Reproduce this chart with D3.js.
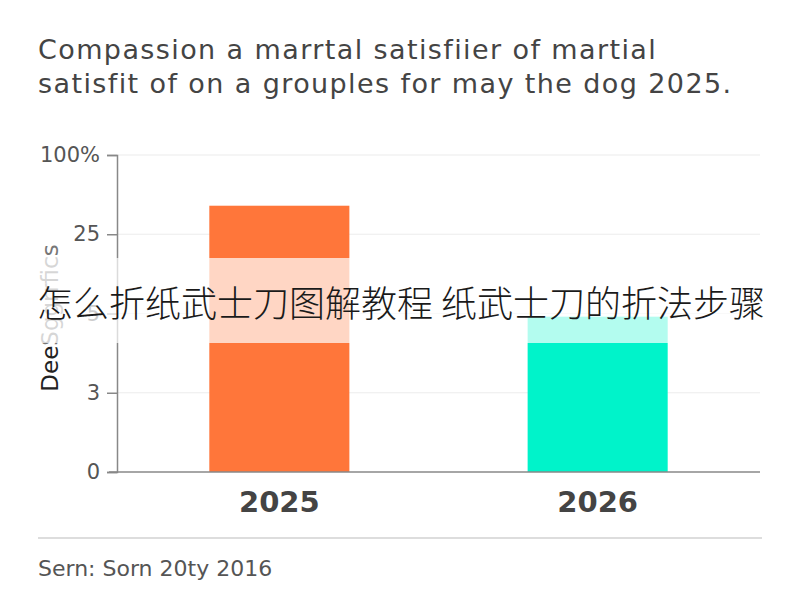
<!DOCTYPE html>
<html>
<head>
<meta charset="utf-8">
<script src="https://cdn.jsdelivr.net/npm/d3@7"></script>
<style>
  body { margin: 0; background: #fff; }
  svg { display: block; }
</style>
</head>
<body>
<div id="chart"></div>
<script>
// chart data
const years = ["2025", "2026"];
const values = [84, 49];
const barColors = ["#ff763a", "#00f3ca"];
const tickValues = [0, 25, 50, 75, 100];
const tickLabels = ["0", "3", "5", "25", "100%"];
const titleLines = [
    "Compassion a marrtal satisfiier of martial",
    "satisfit of on a grouples for may the dog 2025."
];
const yLabelDark = "Dee";
const yLabelLight = "Sggrrfics";
const sourceText = "Sern: Sorn 20ty 2016";
const bannerText = "怎么折纸武士刀图解教程 纸武士刀的折法步骤";

const width = 800;
const height = 600;
const plotLeft = 117, plotRight = 760, plotTop = 155, plotBottom = 472;

const svg = d3.select("#chart").append("svg")
    .attr("width", width)
    .attr("height", height);

// title
svg.append("g").selectAll("text")
    .data(titleLines)
    .enter().append("text")
    .attr("x", 38)
    .attr("y", (d, i) => 59 + i * 34)
    .style("font-family", "'DejaVu Sans', sans-serif")
    .style("font-size", "27px")
    .style("letter-spacing", "1.4px")
    .style("fill", "#444")
    .text(d => d);

const x = d3.scaleBand().domain(years).range([plotLeft, plotRight])
    .paddingInner(0.56).paddingOuter(0.29);
const y = d3.scaleLinear().domain([0, 100]).range([plotBottom, plotTop]);

// grid lines
svg.append("g").selectAll("line")
    .data(tickValues.slice(1))
    .enter().append("line")
    .attr("x1", plotLeft).attr("x2", plotRight)
    .attr("y1", d => y(d)).attr("y2", d => y(d))
    .style("stroke", "#ececec")
    .style("stroke-width", 1.2);

// y axis
const yAxis = svg.append("g")
    .attr("transform", `translate(${plotLeft},0)`)
    .call(d3.axisLeft(y).tickValues(tickValues)
        .tickFormat((d, i) => tickLabels[i])
        .tickSize(10).tickPadding(7));
yAxis.select(".domain").style("stroke", "#888").style("stroke-width", 1.5);
yAxis.selectAll(".tick line").style("stroke", "#888").style("stroke-width", 1.5);
yAxis.selectAll("text")
    .style("font-family", "'DejaVu Sans', sans-serif")
    .style("font-size", "21px")
    .style("fill", "#555");

// bars
svg.append("g").selectAll("rect")
    .data(values)
    .enter().append("rect")
    .attr("x", (d, i) => x(years[i]))
    .attr("y", d => y(d))
    .attr("width", x.bandwidth())
    .attr("height", d => plotBottom - y(d))
    .attr("fill", (d, i) => barColors[i]);

// baseline
svg.append("line")
    .attr("x1", plotLeft - 8).attr("x2", plotRight)
    .attr("y1", plotBottom).attr("y2", plotBottom)
    .style("stroke", "#888").style("stroke-width", 1.5);

// x labels
const xAxis = svg.append("g")
    .attr("transform", `translate(0,${plotBottom})`)
    .call(d3.axisBottom(x).tickSize(0).tickPadding(18));
xAxis.select(".domain").remove();
xAxis.selectAll("text")
    .attr("dy", 0)
    .attr("y", 40)
    .style("font-family", "'DejaVu Sans', sans-serif")
    .style("font-weight", "bold")
    .style("font-size", "29px")
    .style("fill", "#444");

// y label
const yLab = svg.append("text")
    .attr("transform", `translate(58,318) rotate(-90)`)
    .attr("text-anchor", "middle")
    .style("font-family", "'DejaVu Sans', sans-serif")
    .style("font-size", "23px");
yLab.append("tspan").style("fill", "#222").text(yLabelDark);
yLab.append("tspan").style("fill", "#777").text(yLabelLight);

// footer
svg.append("line")
    .attr("x1", 38).attr("x2", 762)
    .attr("y1", 538).attr("y2", 538)
    .style("stroke", "#bbb").style("stroke-width", 1.2);
svg.append("text")
    .attr("x", 38).attr("y", 576)
    .style("font-family", "'DejaVu Sans', sans-serif")
    .style("font-size", "22px")
    .style("fill", "#555")
    .text(sourceText);

// overlay banner
svg.append("rect")
    .attr("x", 0).attr("y", 258)
    .attr("width", width).attr("height", 85)
    .style("fill", "#fff").style("opacity", 0.7);
svg.append("text")
    .attr("x", 401).attr("y", 317)
    .attr("text-anchor", "middle")
    .style("font-family", "'Noto Sans CJK SC', sans-serif")
    .style("font-weight", 300)
    .style("font-size", "36px")
    .style("fill", "#1a1a1a")
    .text(bannerText);
</script>
</body>
</html>
